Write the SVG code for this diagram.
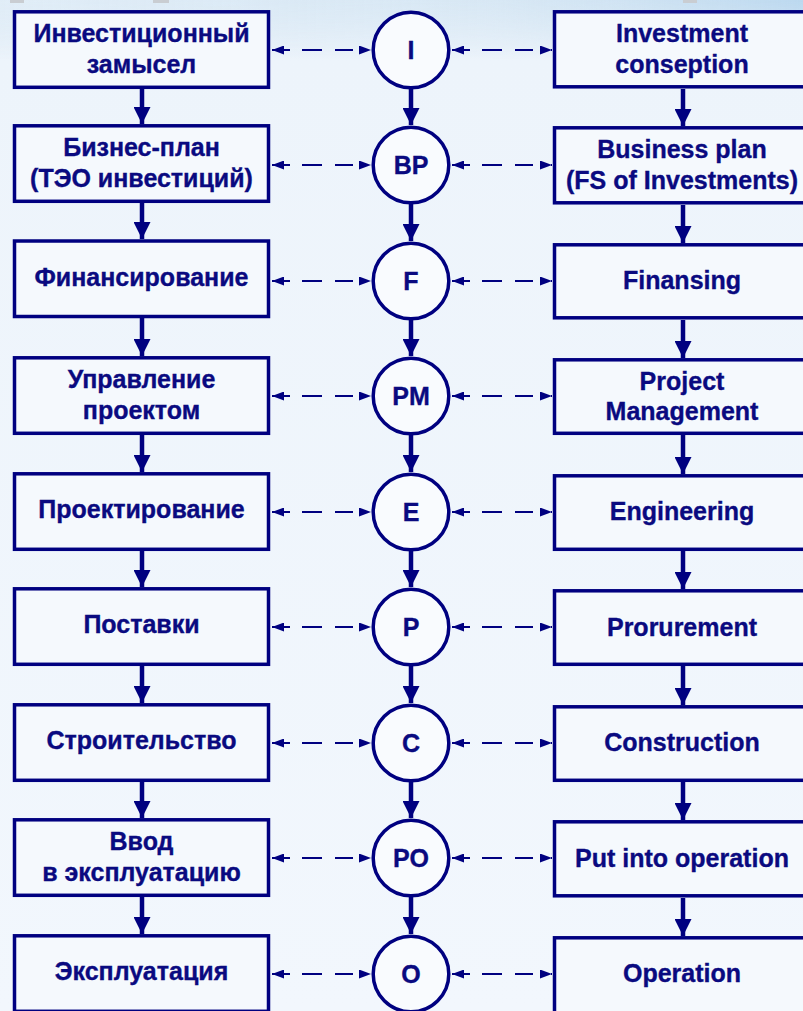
<svg xmlns="http://www.w3.org/2000/svg" width="803" height="1011" viewBox="0 0 803 1011">
<defs>
<linearGradient id="bgv" x1="0" y1="0" x2="0" y2="1">
<stop offset="0" stop-color="#d6e7f4"/>
<stop offset="0.06" stop-color="#edf4fb"/>
<stop offset="1" stop-color="#f2f7fd"/>
</linearGradient>
<linearGradient id="bgh" x1="0" y1="0" x2="1" y2="0">
<stop offset="0" stop-color="#e8f1f9" stop-opacity="0.6"/>
<stop offset="0.6" stop-color="#dbe9f5" stop-opacity="0.4"/>
<stop offset="1" stop-color="#b8d6ee" stop-opacity="0.9"/>
</linearGradient>
<linearGradient id="fadeTop" x1="0" y1="0" x2="0" y2="1">
<stop offset="0" stop-color="#fff" stop-opacity="1"/>
<stop offset="1" stop-color="#fff" stop-opacity="0"/>
</linearGradient>
<mask id="topMask"><rect x="0" y="0" width="803" height="60" fill="url(#fadeTop)"/></mask>
<marker id="thin" viewBox="0 0 12 9" refX="12" refY="4.5" markerWidth="12" markerHeight="9" markerUnits="userSpaceOnUse" orient="auto-start-reverse">
<path d="M0,0 L12,4.5 L0,9 Z" fill="#000080"/>
</marker>
<marker id="thick" viewBox="0 0 17 17" refX="17" refY="8.5" markerWidth="17" markerHeight="17" markerUnits="userSpaceOnUse" orient="auto">
<path d="M0,0 L17,8.5 L0,17 Z" fill="#000080"/>
</marker>
</defs>
<style>
.box{fill:#f5f9fd;stroke:#000080;stroke-width:3.5}
.circ{fill:#f9fbfe;stroke:#000080;stroke-width:3.5}
.t{font-family:"Liberation Sans",Arial,sans-serif;font-weight:bold;font-size:25px;fill:#0a0a80;stroke:#0a0a80;stroke-width:0.35;text-anchor:middle}
.down{stroke:#000080;stroke-width:4.5;fill:none;marker-end:url(#thick)}
.dash{stroke:#000080;stroke-width:1.8;fill:none;stroke-dasharray:18 12 20 13 18;marker-start:url(#thin);marker-end:url(#thin)}
</style>
<rect x="0" y="0" width="803" height="1011" fill="url(#bgv)"/>
<rect x="0" y="0" width="803" height="60" fill="url(#bgh)" mask="url(#topMask)"/>
<g fill="#c9cdd2">
<rect x="10" y="0" width="14" height="3"/>
<rect x="153" y="0" width="16" height="3"/>
<rect x="683" y="0" width="14" height="3"/>
</g>

<g id="connectors">
<line class="down" x1="142" y1="89" x2="142" y2="124"/>
<line class="down" x1="142" y1="203" x2="142" y2="239"/>
<line class="down" x1="142" y1="318" x2="142" y2="356"/>
<line class="down" x1="142" y1="434" x2="142" y2="472"/>
<line class="down" x1="142" y1="550" x2="142" y2="587"/>
<line class="down" x1="142" y1="665" x2="142" y2="703"/>
<line class="down" x1="142" y1="781" x2="142" y2="818"/>
<line class="down" x1="142" y1="896" x2="142" y2="934"/>
<line class="down" x1="411" y1="89" x2="411" y2="125"/>
<line class="down" x1="411" y1="204" x2="411" y2="241"/>
<line class="down" x1="411" y1="320" x2="411" y2="356"/>
<line class="down" x1="411" y1="435" x2="411" y2="472"/>
<line class="down" x1="411" y1="551" x2="411" y2="587"/>
<line class="down" x1="411" y1="666" x2="411" y2="703"/>
<line class="down" x1="411" y1="782" x2="411" y2="818"/>
<line class="down" x1="411" y1="897" x2="411" y2="934"/>
<line class="down" x1="683" y1="89" x2="683" y2="126"/>
<line class="down" x1="683" y1="205" x2="683" y2="243"/>
<line class="down" x1="683" y1="320" x2="683" y2="358"/>
<line class="down" x1="683" y1="435" x2="683" y2="474"/>
<line class="down" x1="683" y1="551" x2="683" y2="589"/>
<line class="down" x1="683" y1="666" x2="683" y2="705"/>
<line class="down" x1="683" y1="782" x2="683" y2="820"/>
<line class="down" x1="683" y1="898" x2="683" y2="936"/>
<line class="dash" x1="272" y1="50" x2="371" y2="50"/>
<line class="dash" x1="452" y1="50" x2="552" y2="50"/>
<line class="dash" x1="272" y1="165" x2="371" y2="165"/>
<line class="dash" x1="452" y1="165" x2="552" y2="165"/>
<line class="dash" x1="272" y1="281" x2="371" y2="281"/>
<line class="dash" x1="452" y1="281" x2="552" y2="281"/>
<line class="dash" x1="272" y1="396" x2="371" y2="396"/>
<line class="dash" x1="452" y1="396" x2="552" y2="396"/>
<line class="dash" x1="272" y1="512" x2="371" y2="512"/>
<line class="dash" x1="452" y1="512" x2="552" y2="512"/>
<line class="dash" x1="272" y1="627" x2="371" y2="627"/>
<line class="dash" x1="452" y1="627" x2="552" y2="627"/>
<line class="dash" x1="272" y1="743" x2="371" y2="743"/>
<line class="dash" x1="452" y1="743" x2="552" y2="743"/>
<line class="dash" x1="272" y1="858" x2="371" y2="858"/>
<line class="dash" x1="452" y1="858" x2="552" y2="858"/>
<line class="dash" x1="272" y1="974" x2="371" y2="974"/>
<line class="dash" x1="452" y1="974" x2="552" y2="974"/>
</g>

<g id="l1"><rect class="box" x="14.5" y="11.8" width="254" height="75.5"/><text class="t" x="141.5" y="42">Инвестиционный</text><text class="t" x="141.5" y="73">замысел</text></g>
<g id="l2"><rect class="box" x="14.5" y="125.8" width="254" height="75.5"/><text class="t" x="141.5" y="156">Бизнес-план</text><text class="t" x="141.5" y="187">(ТЭО инвестиций)</text></g>
<g id="l3"><rect class="box" x="14.5" y="241" width="254" height="75.5"/><text class="t" x="141.5" y="286">Финансирование</text></g>
<g id="l4"><rect class="box" x="14.5" y="357.8" width="254" height="75.5"/><text class="t" x="141.5" y="388">Управление</text><text class="t" x="141.5" y="419">проектом</text></g>
<g id="l5"><rect class="box" x="14.5" y="473.8" width="254" height="75.5"/><text class="t" x="141.5" y="518">Проектирование</text></g>
<g id="l6"><rect class="box" x="14.5" y="588.8" width="254" height="75.5"/><text class="t" x="141.5" y="633">Поставки</text></g>
<g id="l7"><rect class="box" x="14.5" y="704.8" width="254" height="75.5"/><text class="t" x="141.5" y="749">Строительство</text></g>
<g id="l8"><rect class="box" x="14.5" y="819.8" width="254" height="75.5"/><text class="t" x="141.5" y="850">Ввод</text><text class="t" x="141.5" y="881">в эксплуатацию</text></g>
<g id="l9"><rect class="box" x="14.5" y="935.8" width="254" height="75.5"/><text class="t" x="141.5" y="980">Эксплуатация</text></g>

<g id="cI"><circle class="circ" cx="411" cy="50" r="37.8"/><text class="t" x="411" y="59">I</text></g>
<g id="cBP"><circle class="circ" cx="411" cy="165" r="37.8"/><text class="t" x="411" y="174">BP</text></g>
<g id="cF"><circle class="circ" cx="411" cy="281" r="37.8"/><text class="t" x="411" y="290">F</text></g>
<g id="cPM"><circle class="circ" cx="411" cy="396" r="37.8"/><text class="t" x="411" y="405">PM</text></g>
<g id="cE"><circle class="circ" cx="411" cy="512" r="37.8"/><text class="t" x="411" y="521">E</text></g>
<g id="cP"><circle class="circ" cx="411" cy="627" r="37.8"/><text class="t" x="411" y="636">P</text></g>
<g id="cC"><circle class="circ" cx="411" cy="743" r="37.8"/><text class="t" x="411" y="752">C</text></g>
<g id="cPO"><circle class="circ" cx="411" cy="858" r="37.8"/><text class="t" x="411" y="867">PO</text></g>
<g id="cO"><circle class="circ" cx="411" cy="974" r="37.8"/><text class="t" x="411" y="983">O</text></g>

<g id="r1"><rect class="box" x="554.5" y="11.8" width="260" height="75"/><text class="t" x="682" y="42">Investment</text><text class="t" x="682" y="73">conseption</text></g>
<g id="r2"><rect class="box" x="554.5" y="127.8" width="260" height="75"/><text class="t" x="682" y="158">Business plan</text><text class="t" x="682" y="189">(FS of Investments)</text></g>
<g id="r3"><rect class="box" x="554.5" y="244.8" width="260" height="73"/><text class="t" x="682" y="289">Finansing</text></g>
<g id="r4"><rect class="box" x="554.5" y="359.8" width="260" height="73.5"/><text class="t" x="682" y="390">Project</text><text class="t" x="682" y="420">Management</text></g>
<g id="r5"><rect class="box" x="554.5" y="475.8" width="260" height="73.5"/><text class="t" x="682" y="520">Engineering</text></g>
<g id="r6"><rect class="box" x="554.5" y="590.8" width="260" height="73.5"/><text class="t" x="682" y="636">Prorurement</text></g>
<g id="r7"><rect class="box" x="554.5" y="706.8" width="260" height="73.5"/><text class="t" x="682" y="751">Construction</text></g>
<g id="r8"><rect class="box" x="554.5" y="821.8" width="260" height="74"/><text class="t" x="682" y="867">Put into operation</text></g>
<g id="r9"><rect class="box" x="554.5" y="937.8" width="260" height="75"/><text class="t" x="682" y="982">Operation</text></g>
</svg>
